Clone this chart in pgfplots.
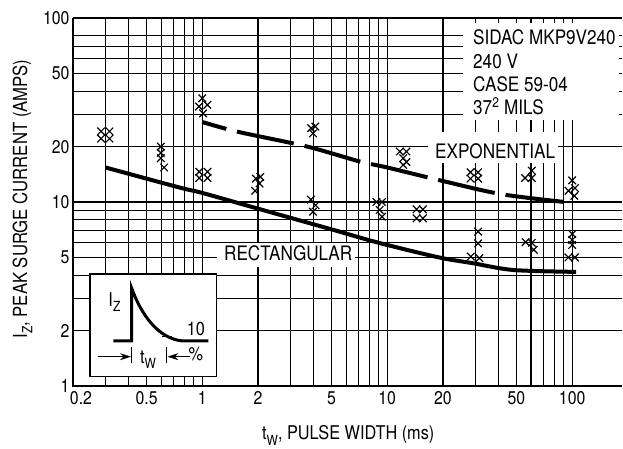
\documentclass[border=0pt]{standalone}
\usepackage{fontspec}
\setmainfont{TeX Gyre Heros}[FakeStretch=0.86]
\usepackage{pgfplots}
\pgfplotsset{compat=1.18}
\usetikzlibrary{arrows.meta}
\newcommand{\sub}[1]{\raisebox{-0.28em}{\fontsize{14}{14}\selectfont #1}}

\begin{document}
\begin{tikzpicture}
\begin{axis}[
  xmode=log, ymode=log,
  scale only axis, width=549bp, height=368bp,
  xmin=0.2, xmax=186, ymin=1, ymax=100,
  clip=false,
  axis line style={draw=none},
  major tick length=0pt, minor tick length=0pt,
  xtick={0.2,0.5,1,2,5,10,20,50,100},
  xticklabels={\hspace{16bp}0.2,0.5,1,2,5,10,20,50,100},
  ytick={1,2,5,10,20,50,100},
  yticklabels={1,2,5,10,20,50,100},
  minor xtick={0.3,0.4,0.6,0.7,0.8,0.9,3,4,6,7,8,9,30,40,60,70,80,90},
  minor ytick={3,4,6,7,8,9,30,40,60,70,80},
  grid=both,
  major grid style={black,line width=1.3bp},
  minor grid style={black,line width=1.3bp},
  ticklabel style={font=\fontsize{18.5}{20}\selectfont},
  xticklabel style={yshift=-2bp},
]
% thick left and bottom axis
\draw[line width=2.6bp] (rel axis cs:0,1) -- (rel axis cs:0,0) -- (rel axis cs:1,0);

% label box under the curve
\fill[white] (rel axis cs:0.2617,0.3877) rectangle (rel axis cs:0.5137,0.3243);
\node[anchor=base west,inner sep=0,font=\fontsize{20}{22}\selectfont]
  at (rel axis cs:0.275,0.3405) {RECTANGULAR};

% rectangular pulse
\addplot[black,line width=4bp,smooth] coordinates {
  (0.3,15.4) (0.75,12.0) (1,11.2) (2,9.2) (5,7.1) (9,6.0) (19,5.0) (29,4.65) (48,4.27) (105,4.17)};

% exponential pulse
\addplot[black,line width=4bp,smooth,dash pattern=on 58bp off 11bp,dash phase=33bp] coordinates {
  (1,27.2) (1.55,24.1) (3.7,20.0) (7.1,16.6) (10,15.4) (20,13.0) (42,11.0) (100,9.9)};

% measured points
\addplot[only marks,mark=x,mark size=5.3bp,mark options={line width=1.2bp,black}] coordinates {
  (0.2835,24.2) (0.315,24.2) (0.2835,22.1) (0.315,22.1)
  (0.597,20.0) (0.597,18.5) (0.597,17.3) (0.622,15.4)
  (1.0,36.6) (0.96,33.0) (1.065,33.7) (1.01,30.3)
  (0.963,14.6) (1.068,14.6) (0.963,13.5) (1.068,13.5)
  (1.95,13.4) (2.06,13.7) (2.04,12.6) (1.93,11.5)
  (3.88,25.2) (4.08,25.7) (3.97,23.6)
  (3.87,10.3) (4.1,9.6) (3.97,8.86)
  (8.74,10.0) (9.37,10.0) (9.1,9.05) (9.37,8.32)
  (11.7,18.8) (12.7,18.8) (12.2,17.3) (12.7,16.5) (12.2,15.9)
  (14.4,9.12) (15.6,9.12) (14.4,8.15) (15.6,8.15)
  (28.2,14.5) (31.0,14.5) (28.2,13.4) (31.0,13.4)
  (31.0,6.9) (31.0,5.96) (28.3,5.05) (31.5,4.95)
  (60.5,14.8) (55.6,13.5) (60.5,13.5)
  (56.0,6.05) (60.5,6.0) (62.0,5.5)
  (100,13.1) (95.5,11.5) (103.5,11.9) (102.7,10.8)
  (100,6.7) (100,6.22) (100,5.84) (95.5,5.0) (103.5,5.0)
};
\end{axis}

\begin{scope}[x=1bp,y=1bp]
% device data box
\fill[white] (390,266) rectangle (546,363);
\begin{scope}[every node/.style={anchor=base west,inner sep=0,font=\fontsize{20}{22}\selectfont}]
  \node at (400,341) {SIDAC MKP9V240};
  \node at (400,317.7) {240 V};
  \node at (400,294.3) {CASE 59-04};
  \node at (400,271) {37\textsuperscript{2} MILS};
  \fill[white] (355.3,222.7) rectangle (485.3,254.3);
  \node at (362,227) {EXPONENTIAL};
\end{scope}

% inset: pulse shape
\filldraw[fill=white,draw=black,line width=1.3bp] (17,9.3) rectangle (143.7,112);
\draw[line width=3bp] (40.3,45) -- (58.7,45) -- (58.7,97.7)
  .. controls (68,72) and (85,47) .. (110,45) -- (135.3,45);
\draw[line width=0.8bp] (88.7,50) -- (98.7,50);
\begin{scope}[every node/.style={anchor=base west,inner sep=0,font=\fontsize{19}{20}\selectfont}]
  \node at (35.3,79.3) {I\sub{Z}};
  \node at (113.7,50) {10};
  \node at (115.3,25.3) {\%};
  \node at (67,22.7) {t\sub{W}};
\end{scope}
\draw[line width=1bp] (58.7,22.7) -- (58.7,39.3);
\draw[line width=1bp] (93.7,22.7) -- (93.7,39.3);
\draw[line width=1bp,-{Stealth[length=11bp,width=7bp]}] (25.3,29.3) -- (58,29.3);
\draw[line width=1bp,-{Stealth[length=11bp,width=7bp]}] (117,29.3) -- (94.4,29.3);

% axis titles
\node[rotate=90,anchor=base,font=\fontsize{19.5}{20}\selectfont] at (-46,187)
  {I\sub{Z}, PEAK SURGE CURRENT (AMPS)};
\node[anchor=base,font=\fontsize{19}{20}\selectfont] at (275.3,-54)
  {t\sub{W}, PULSE WIDTH (ms)};

\pgfresetboundingbox
\path[use as bounding box] (-73,-63) rectangle (550,386);
\end{scope}
\end{tikzpicture}
\end{document}
